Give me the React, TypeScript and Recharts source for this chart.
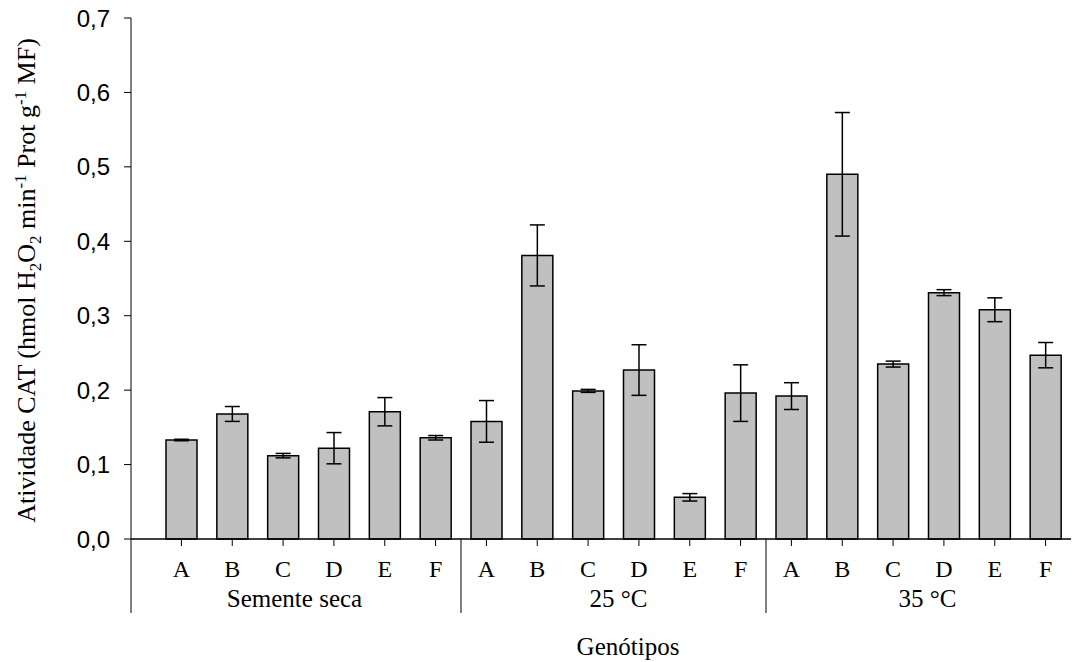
import { BarChart, Bar, XAxis, YAxis, ErrorBar } from 'recharts';

// catalase activity per genotype, grouped by treatment
const genotypes = ['A', 'B', 'C', 'D', 'E', 'F'];
const groups = ['Semente seca', '25 °C', '35 °C'];

const meanSeca = [0.133, 0.168, 0.112, 0.122, 0.171, 0.136];
const errSeca = [0.001, 0.010, 0.003, 0.021, 0.019, 0.003];
const mean25 = [0.158, 0.381, 0.199, 0.227, 0.056, 0.196];
const err25 = [0.028, 0.041, 0.002, 0.034, 0.005, 0.038];
const mean35 = [0.192, 0.490, 0.235, 0.331, 0.308, 0.247];
const err35 = [0.018, 0.083, 0.004, 0.004, 0.016, 0.017];

const yTicks = [0, 0.1, 0.2, 0.3, 0.4, 0.5, 0.6, 0.7];

const means = [meanSeca, mean25, mean35];
const errs = [errSeca, err25, err35];

const rows = groups.flatMap((group, gi) =>
  genotypes.map((g, i) => ({
    key: `${gi}-${g}`,
    genotype: g,
    group,
    value: means[gi][i],
    err: errs[gi][i],
  }))
);

const W = 1089;
const H = 662;
const M_TOP = 18;
const M_RIGHT = 18;
const Y_AXIS_W = 131;
const X_AXIS_H = 123;
const PAD_LEFT = 25;
const TICK = 7;
const PLOT_W = W - Y_AXIS_W - M_RIGHT;
const BAND = (PLOT_W - PAD_LEFT) / rows.length;
// hand-placed group captions sit a little off the group centre
const GROUP_NUDGE = [-14, 5, 9];

const serif = '"Liberation Serif", "Times New Roman", serif';
const sans = '"Liberation Sans", Arial, sans-serif';

const GenotypeTick = (props: any) => {
  const { x, y, payload } = props;
  const i = payload.index;
  const row = rows[i];
  const pos = i % genotypes.length;
  const gi = Math.floor(i / genotypes.length);
  const axisY = y - TICK;
  let sep = null;
  if (pos === 0) {
    const sx = i === 0 ? x - BAND / 2 - PAD_LEFT : x - BAND / 2;
    sep = <line x1={sx} y1={axisY} x2={sx} y2={axisY + 74} stroke="#000" strokeWidth={1} />;
  }
  return (
    <g>
      {sep}
      <text x={x} y={y + 31} textAnchor="middle" fontFamily={serif} fontSize={24} fill="#000">
        {row.genotype}
      </text>
      {pos === 2 && (
        <text
          x={x + BAND / 2 + GROUP_NUDGE[gi]}
          y={y + 61}
          textAnchor="middle"
          fontFamily={serif}
          fontSize={25}
          fill="#000"
        >
          {row.group}
        </text>
      )}
    </g>
  );
};

const XTitle = (props: any) => {
  const { viewBox } = props;
  const cx = viewBox.x + viewBox.width / 2 + 27;
  return (
    <text x={cx} y={655} textAnchor="middle" fontFamily={serif} fontSize={25} fill="#000">
      Genótipos
    </text>
  );
};

const YTitle = (props: any) => {
  const { viewBox } = props;
  const bx = viewBox.x + 35;
  const cy = viewBox.y + viewBox.height / 2 + 2;
  return (
    <text
      x={bx}
      y={cy}
      transform={`rotate(-90, ${bx}, ${cy})`}
      textAnchor="middle"
      fontFamily={serif}
      fontSize={26}
      fill="#000"
    >
      Atividade CAT (hmol H
      <tspan fontSize={17} dy={6}>2</tspan>
      <tspan dy={-6}>O</tspan>
      <tspan fontSize={17} dy={6}>2</tspan>
      <tspan dy={-6}> min</tspan>
      <tspan fontSize={17} dy={-9}>-1</tspan>
      <tspan dy={9}> Prot g</tspan>
      <tspan fontSize={17} dy={-9}>-1</tspan>
      <tspan dy={9}> MF)</tspan>
    </text>
  );
};

export default function App() {
  return (
    <div style={{ position: 'absolute', left: 0, top: 0, background: '#fff' }}>
      <BarChart
        width={W}
        height={H}
        data={rows}
        margin={{ top: M_TOP, right: M_RIGHT, bottom: 0, left: 0 }}
        barSize={31}
      >
        <XAxis
          dataKey="key"
          height={X_AXIS_H}
          padding={{ left: PAD_LEFT, right: 0 }}
          interval={0}
          tickSize={TICK}
          tickMargin={0}
          tick={<GenotypeTick />}
          axisLine={{ stroke: '#000', strokeWidth: 1.5 }}
          tickLine={{ stroke: '#000', strokeWidth: 1 }}
          label={{ content: <XTitle /> }}
        />
        <YAxis
          width={Y_AXIS_W}
          domain={[0, 0.7]}
          ticks={yTicks}
          interval={0}
          tickSize={TICK}
          tickMargin={14}
          tickFormatter={(v: number) => v.toFixed(1).replace('.', ',')}
          tick={{ fontFamily: sans, fontSize: 24, fill: '#000' }}
          axisLine={{ stroke: '#000', strokeWidth: 1 }}
          tickLine={{ stroke: '#000', strokeWidth: 1 }}
          label={{ content: <YTitle /> }}
        />
        <Bar dataKey="value" fill="#c0c0c0" stroke="#000" strokeWidth={1.5} isAnimationActive={false}>
          <ErrorBar dataKey="err" width={7.5} stroke="#000" strokeWidth={1.5} isAnimationActive={false} />
        </Bar>
      </BarChart>
    </div>
  );
}
